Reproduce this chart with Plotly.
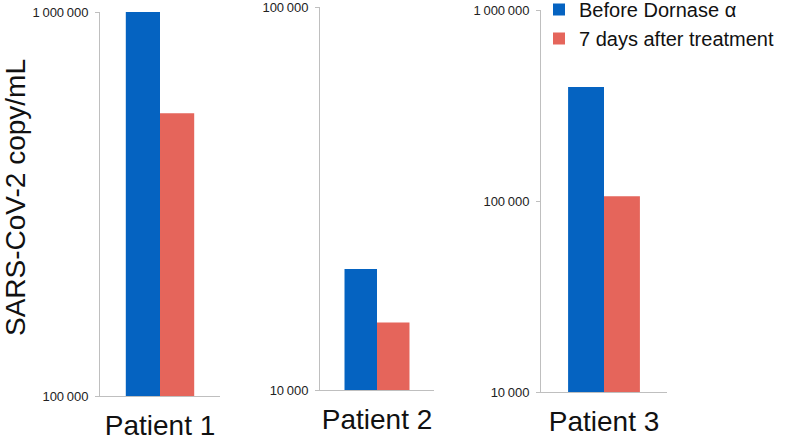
import plotly.graph_objects as go

patients = ["Patient 1", "Patient 2", "Patient 3"]
before_dornase = [1000000, 20700, 395000]
after_7_days = [545000, 15000, 106000]
series_names = ["Before Dornase α", "7 days after treatment"]
colors = ["#0563C1", "#E5655B"]

y_ranges = [[5, 6], [4, 5], [4, 6]]
tick_vals = [[100000, 1000000], [10000, 100000], [10000, 100000, 1000000]]
tick_text = [["100\u2009000", "1\u2009000\u2009000"],
             ["10\u2009000", "100\u2009000"],
             ["10\u2009000", "100\u2009000", "1\u2009000\u2009000"]]

W, H = 790, 441
# panel pixel boxes: (x_left, x_right, y_top, y_bottom)
boxes = [(100, 220, 12, 396), (320, 434, 7, 390), (541, 667, 10, 392)]

fig = go.Figure()
for i, p in enumerate(patients):
    sfx = "" if i == 0 else str(i + 1)
    for j, vals in enumerate([before_dornase, after_7_days]):
        fig.add_trace(go.Bar(
            x=[p], y=[vals[i]], name=series_names[j],
            marker=dict(color=colors[j], line=dict(width=0)),
            xaxis="x" + sfx, yaxis="y" + sfx,
            showlegend=(i == 0),
        ))
    xl, xr, yt, yb = boxes[i]
    fig.layout["xaxis" + sfx] = dict(
        domain=[xl / W, xr / W], anchor="y" + sfx, automargin=False,
        showline=True, linecolor="#BFBFBF", linewidth=1,
        showgrid=False, zeroline=False, ticks="",
        tickfont=dict(size=28, color="#111", family="Liberation Sans, Arial"),
        ticklabelstandoff=4, ticklabeloverflow="allow", fixedrange=True,
    )
    fig.layout["yaxis" + sfx] = dict(
        domain=[1 - yb / H, 1 - yt / H], anchor="x" + sfx, automargin=False,
        type="log", range=y_ranges[i],
        tickvals=tick_vals[i], ticktext=tick_text[i],
        showline=True, linecolor="#BFBFBF", linewidth=1,
        ticks="outside", ticklen=4, tickcolor="#BFBFBF",
        showgrid=False, zeroline=False,
        tickfont=dict(size=13, color="#222", family="Liberation Sans, Arial"),
        ticklabelstandoff=4, ticklabeloverflow="allow",
    )

fig.add_annotation(
    text="SARS-CoV-2 copy/mL", textangle=-90,
    x=15 / W, y=1 - 198 / H, xref="paper", yref="paper",
    xanchor="center", yanchor="middle", showarrow=False,
    font=dict(size=28, color="#111", family="Liberation Sans, Arial"),
)

fig.update_layout(
    width=W, height=H, barmode="group", bargap=0.43, bargroupgap=0,
    margin=dict(l=0, r=0, t=0, b=0, autoexpand=False),
    plot_bgcolor="white", paper_bgcolor="white",
    font=dict(family="Liberation Sans, Arial", color="#111"),
    legend=dict(x=539 / W, y=1 + 10 / H, xanchor="left", yanchor="top",
                font=dict(size=20, color="#111"), bgcolor="rgba(0,0,0,0)",
                borderwidth=0, tracegroupgap=0),
)

fig.write_html("out.html", config={"displayModeBar": False},
               post_script="document.body.style.margin='0';")
